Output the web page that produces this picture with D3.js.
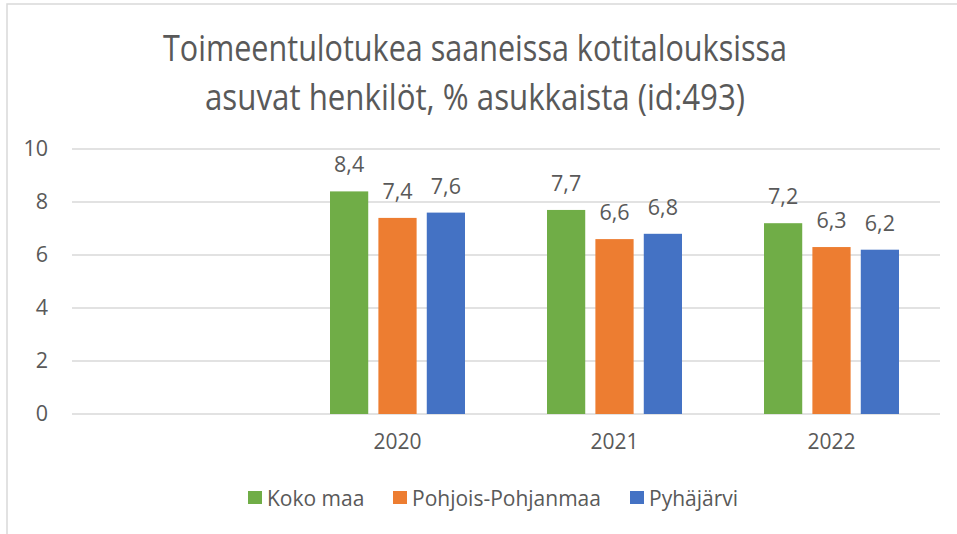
<!DOCTYPE html>
<html>
<head>
<meta charset="utf-8">
<script src="https://cdn.jsdelivr.net/npm/d3@7"></script>
<style>
  body { margin: 0; background: #fff; }
  text { font-family: "Open Sans", "Liberation Sans", sans-serif; fill: #595959; }
</style>
</head>
<body>
<div id="chart"></div>
<script>
// Chart data
const categories = ["", "2020", "2021", "2022"];
const seriesNames = ["Koko maa", "Pohjois-Pohjanmaa", "Pyhäjärvi"];
const kokoMaa = [null, 8.4, 7.7, 7.2];
const pohjoisPohjanmaa = [null, 7.4, 6.6, 6.3];
const pyhajarvi = [null, 7.6, 6.8, 6.2];
const yTicks = [0, 2, 4, 6, 8, 10];
const titleLines = ["Toimeentulotukea saaneissa kotitalouksissa", "asuvat henkilöt, % asukkaista (id:493)"];

const colors = ["#70AD47", "#ED7D31", "#4472C4"];
const seriesValues = [kokoMaa, pohjoisPohjanmaa, pyhajarvi];

const W = 957, H = 534;
const margin = {top: 149, right: 17, bottom: 120, left: 72};
const width = W - margin.left - margin.right,
      height = H - margin.top - margin.bottom;

const svg = d3.select("#chart")
  .append("svg")
  .attr("width", W)
  .attr("height", H);

// Chart border
svg.append("rect")
  .attr("x", 7).attr("y", 4)
  .attr("width", W).attr("height", H)
  .attr("fill", "none")
  .attr("stroke", "#D9D9D9")
  .attr("stroke-width", 1.5);

// Title
svg.selectAll(".title")
  .data(titleLines)
  .join("text")
  .attr("class", "title")
  .attr("x", 475)
  .attr("y", (d, i) => 61 + i * 49)
  .attr("text-anchor", "middle")
  .attr("textLength", (d, i) => i === 0 ? 624 : 540)
  .attr("lengthAdjust", "spacingAndGlyphs")
  .style("font-size", "36px")
  .text(d => d);

const g = svg.append("g")
  .attr("transform", `translate(${margin.left},${margin.top})`);

const x0 = d3.scaleBand().domain(categories).range([0, width]).paddingInner(0).paddingOuter(0);
const x1 = d3.scaleBand().domain(seriesNames).range([41, x0.bandwidth() - 41]).paddingInner(0.21);
const y = d3.scaleLinear().domain([0, 10]).range([height, 0]);

// Gridlines
g.selectAll(".grid")
  .data(yTicks)
  .join("line")
  .attr("x1", 0).attr("x2", width)
  .attr("y1", d => y(d)).attr("y2", d => y(d))
  .attr("stroke", "#D9D9D9")
  .attr("stroke-width", 1.5);

// Y axis labels
const yAxis = g.append("g")
  .call(d3.axisLeft(y).tickValues(yTicks).tickSize(0).tickPadding(24));
yAxis.select(".domain").remove();
yAxis.selectAll("text")
  .attr("fill", "#595959")
  .style("font-family", "Open Sans, sans-serif")
  .style("font-size", "21.5px");

// X axis labels
const xAxis = g.append("g")
  .attr("transform", `translate(0,${height})`)
  .call(d3.axisBottom(x0).tickSize(0).tickPadding(20));
xAxis.select(".domain").remove();
xAxis.selectAll("text")
  .attr("fill", "#595959")
  .style("font-family", "Open Sans, sans-serif")
  .style("font-size", "21px");

// Bars
const barData = [];
seriesNames.forEach((s, si) => {
  categories.forEach((c, ci) => {
    const v = seriesValues[si][ci];
    if (v != null) barData.push({series: s, cat: c, value: v, color: colors[si]});
  });
});

g.selectAll(".bar")
  .data(barData)
  .join("rect")
  .attr("class", "bar")
  .attr("x", d => x0(d.cat) + x1(d.series))
  .attr("y", d => y(d.value))
  .attr("width", x1.bandwidth())
  .attr("height", d => height - y(d.value))
  .attr("fill", d => d.color);

// Data labels
g.selectAll(".label")
  .data(barData)
  .join("text")
  .attr("class", "label")
  .attr("x", d => x0(d.cat) + x1(d.series) + x1.bandwidth() / 2)
  .attr("y", d => y(d.value) - 19)
  .attr("text-anchor", "middle")
  .style("font-size", "21.5px")
  .text(d => String(d.value).replace(".", ","));

// Legend
const legendX = [248, 393, 630];
const legend = svg.selectAll(".legend")
  .data(seriesNames)
  .join("g")
  .attr("class", "legend")
  .attr("transform", (d, i) => `translate(${legendX[i]},491)`);

legend.append("rect")
  .attr("width", 14).attr("height", 13)
  .attr("fill", (d, i) => colors[i]);

legend.append("text")
  .attr("x", 19)
  .attr("y", 14.5)
  .style("font-size", "21px")
  .text(d => d);
</script>
</body>
</html>
